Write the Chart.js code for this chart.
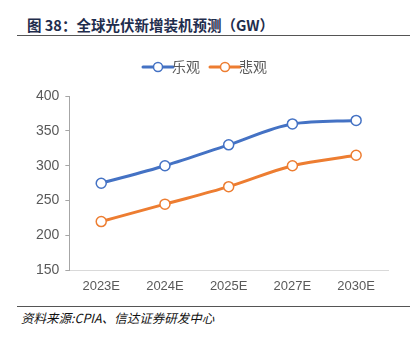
<!DOCTYPE html>
<html>
<head>
<meta charset="utf-8">
<script src="https://cdn.jsdelivr.net/npm/chart.js@4"></script>
<style>
  body { margin: 0; background: #fff; width: 420px; height: 338px; position: relative; overflow: hidden;
         font-family: "Noto Sans CJK SC", "Liberation Sans", sans-serif; }
  #title { position: absolute; left: 27px; top: 14px; font-size: 14.5px; font-weight: bold; color: #1f2d4d; }
  #titleLine { position: absolute; left: 17px; top: 35px; width: 393px; height: 1px; background: #555; }
  #box { position: absolute; left: 0; top: 34px; width: 420px; height: 260px; }
  #footLine { position: absolute; left: 17px; top: 306px; width: 393px; height: 1px; background: #555; }
  #foot { position: absolute; left: 21px; top: 308px; font-size: 12.5px; font-style: italic; color: #111; }
</style>
</head>
<body>
<div id="title">图 38：全球光伏新增装机预测（GW）</div>
<div id="titleLine"></div>
<div id="box"><canvas id="chart"></canvas></div>
<div id="footLine"></div>
<div id="foot">资料来源:CPIA、信达证券研发中心</div>
<script>
const years = ["2023E", "2024E", "2025E", "2027E", "2030E"];
const optimistic = [275, 300, 330, 360, 365];
const pessimistic = [220, 245, 270, 300, 315];
const yTicks = [150, 200, 250, 300, 350, 400];

/* legend swatch: line with hollow circle */
function swatch(color) {
    const c = document.createElement("canvas");
    c.width = 34; c.height = 12;
    const g = c.getContext("2d");
    g.strokeStyle = color;
    g.lineWidth = 3;
    g.lineCap = "round";
    g.beginPath(); g.moveTo(2, 6); g.lineTo(32, 6); g.stroke();
    g.fillStyle = "#fff";
    g.lineWidth = 1.5;
    g.beginPath(); g.arc(17, 6, 4.5, 0, Math.PI * 2); g.fill(); g.stroke();
    return c;
}

function series(label, data, color) {
    return {
        label, data,
        borderColor: color,
        backgroundColor: "#fff",
        borderWidth: 3,
        tension: 0.4,
        cubicInterpolationMode: "monotone",
        pointRadius: 5,
        pointBorderWidth: 1.5,
        pointBackgroundColor: "#fff",
        pointBorderColor: color,
        pointStyle: "circle",
        legendSwatch: swatch(color)
    };
}

/* extra room under the legend */
const legendGap = {
    id: "legendGap",
    beforeInit(chart) {
        const fit = chart.legend.fit;
        chart.legend.fit = function () {
            fit.bind(chart.legend)();
            this.height += 12;
        };
    }
};

new Chart(document.getElementById("chart"), {
    type: "line",
    data: {
        labels: years,
        datasets: [
            series("乐观", optimistic, "#4472C4"),
            series("悲观", pessimistic, "#ED7D31")
        ]
    },
    plugins: [legendGap],
    options: {
        responsive: true,
        maintainAspectRatio: false,
        animation: false,
        layout: { padding: { left: 30, right: 32, top: 8, bottom: 0 } },
        plugins: {
            tooltip: { enabled: false },
            legend: {
                position: "top",
                labels: {
                    usePointStyle: true,
                    color: "#595959",
                    font: { size: 14, family: "Noto Sans CJK SC" },
                    padding: 18,
                    generateLabels: chart => chart.data.datasets.map((d, i) => ({
                        text: d.label,
                        pointStyle: d.legendSwatch,
                        fontColor: "#595959",
                        datasetIndex: i,
                        hidden: false
                    }))
                }
            }
        },
        scales: {
            x: {
                offset: true,
                grid: { display: false },
                border: { color: "#d9d9d9", width: 1 },
                ticks: { color: "#595959", font: { size: 13, family: "Liberation Sans" }, padding: 0 }
            },
            y: {
                min: 150, max: 400,
                afterBuildTicks: axis => { axis.ticks = yTicks.map(v => ({ value: v })); },
                grid: { drawOnChartArea: false, drawTicks: true, tickLength: 4, color: "#a6a6a6" },
                border: { color: "#a6a6a6", width: 1 },
                ticks: { color: "#595959", font: { size: 14, family: "Liberation Sans" }, padding: 6 }
            }
        }
    }
});
</script>
</body>
</html>
